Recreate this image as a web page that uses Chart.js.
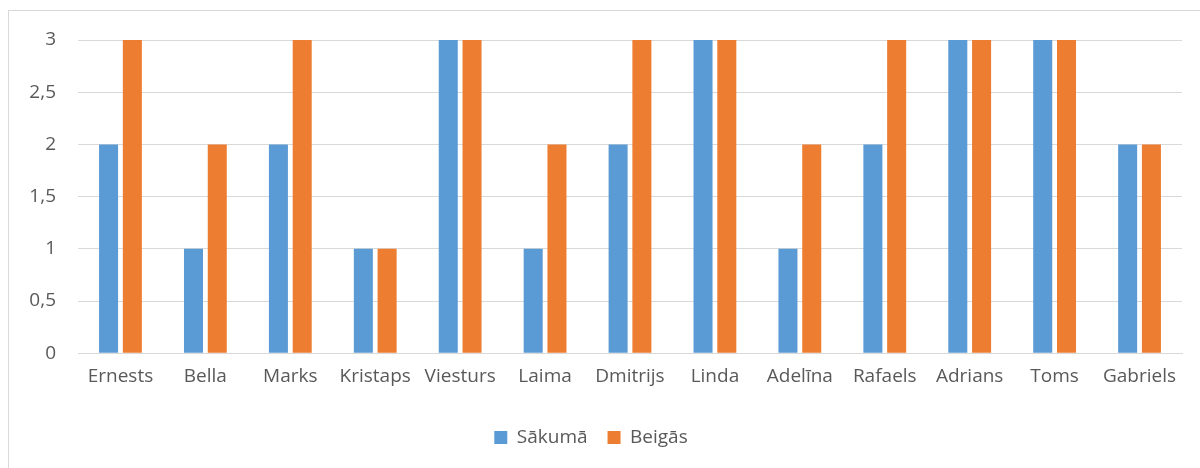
<!DOCTYPE html>
<html>
<head>
<meta charset="utf-8">
<script src="https://cdn.jsdelivr.net/npm/chart.js@4"></script>
<style>
  body { margin: 0; background: #fff; }
  #wrap { position: relative; width: 1200px; height: 468px; overflow: hidden; }
  #frame { position: absolute; left: 8px; top: 10px; width: 1300px; height: 600px; border: 1px solid #d9d9d9; box-sizing: border-box; pointer-events: none; }
  canvas { position: absolute; left: 0; top: 0; }
</style>
</head>
<body>
<div id="wrap">
  <canvas id="chart" width="1200" height="468"></canvas>
  <div id="frame"></div>
</div>
<script>
const names = ['Ernests', 'Bella', 'Marks', 'Kristaps', 'Viesturs', 'Laima', 'Dmitrijs', 'Linda', 'Adelīna', 'Rafaels', 'Adrians', 'Toms', 'Gabriels']
const sakuma = [2, 1, 2, 1, 3, 1, 2, 3, 1, 2, 3, 3, 2]
const beigas = [3, 2, 3, 1, 3, 2, 3, 3, 2, 3, 3, 3, 2]

const txt = '#595959'
const grid = '#d9d9d9'
const fnt = { family: 'Open Sans', size: 19 }

const ctx = document.getElementById('chart').getContext('2d');
new Chart(ctx, {
  type: 'bar',
  data: {
    labels: names,
    datasets: [{
      label: 'Sākumā',
      data: sakuma,
      backgroundColor: '#5b9bd5',
      categoryPercentage: 0.56,
      barPercentage: 0.8
    }, {
      label: 'Beigās',
      data: beigas,
      backgroundColor: '#ed7d31',
      categoryPercentage: 0.56,
      barPercentage: 0.8
    }]
  },
  options: {
    responsive: false,
    animation: false,
    layout: { padding: { left: 0, right: 18, top: 40, bottom: 11 } },
    scales: {
      x: {
        afterFit: s => { s.height += 16 },
        grid: { display: false },
        border: { display: true, color: grid, width: 1 },
        ticks: { color: txt, font: fnt, padding: 4, maxRotation: 0, autoSkip: false }
      },
      y: {
        min: 0,
        max: 3,
        afterFit: s => { s.width = 78 },
        grid: { color: grid, lineWidth: 1, drawTicks: false },
        border: { display: false },
        ticks: {
          stepSize: 0.5,
          color: txt,
          padding: 22,
          font: fnt,
          callback: v => String(v).replace('.', ',')
        }
      }
    },
    plugins: {
      legend: {
        display: true,
        position: 'bottom',
        labels: {
          color: txt,
          font: fnt,
          boxWidth: 13,
          boxHeight: 13,
          padding: 20
        }
      },
      tooltip: { enabled: false }
    }
  }
});
</script>
</body>
</html>
